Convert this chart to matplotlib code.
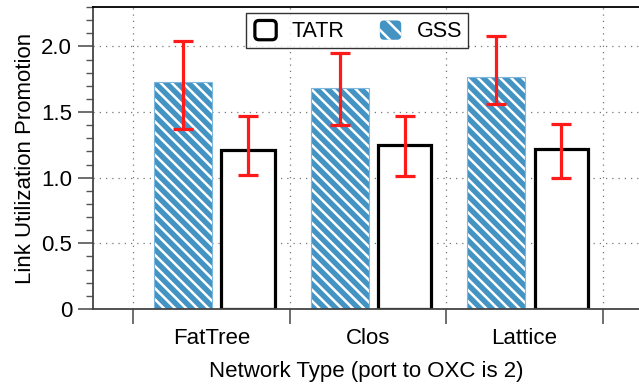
import numpy as np
import matplotlib
matplotlib.use("Agg")
import matplotlib.pyplot as plt
from matplotlib.patches import FancyBboxPatch
from matplotlib.legend_handler import HandlerPatch

plt.rcParams['font.family'] = ['Liberation Sans', 'DejaVu Sans']
plt.rcParams['hatch.color'] = 'white'
plt.rcParams['hatch.linewidth'] = 1.8

categories = ["FatTree", "Clos", "Lattice"]
gss = [1.73, 1.68, 1.77]
gss_err_low = [1.37, 1.40, 1.56]
gss_err_high = [2.04, 1.95, 2.08]
tatr = [1.21, 1.25, 1.22]
tatr_err_low = [1.02, 1.01, 1.00]
tatr_err_high = [1.47, 1.47, 1.41]

blue = "#4393c3"
red = "#ff1a1a"

fig = plt.figure(figsize=(6.39, 3.85), dpi=100)
ax = fig.add_axes([0.1455, 0.1974, 0.8545, 0.7844])

x = np.arange(1, len(categories) + 1)
gx = x - 0.18
tx = x + 0.235

# hatch takes the edge colour, so fill with white edge then outline separately
ax.bar(gx, gss, width=0.37, color=blue, edgecolor="white", linewidth=0,
       hatch="\\\\\\", zorder=2)
ax.bar(gx, gss, width=0.37, color="none", edgecolor="#7fb8de", linewidth=0.8, zorder=2)
ax.bar(tx, tatr, width=0.34, color="white", edgecolor="black", linewidth=2.3, zorder=2)

gss = np.array(gss)
tatr = np.array(tatr)
ax.errorbar(gx, gss, yerr=[gss - np.array(gss_err_low), np.array(gss_err_high) - gss],
            fmt="none", ecolor=red, elinewidth=2.3, capsize=7, capthick=2.3, zorder=3)
ax.errorbar(tx, tatr, yerr=[tatr - np.array(tatr_err_low), np.array(tatr_err_high) - tatr],
            fmt="none", ecolor=red, elinewidth=2.3, capsize=7, capthick=2.3, zorder=3)

ax.set_ylim(0, 2.297)
ax.set_xlim(0.245, 3.73)

# y ticks
ax.set_yticks([0, 0.5, 1.0, 1.5, 2.0])
ax.set_yticklabels(["0", "0.5", "1.0", "1.5", "2.0"])
ax.set_yticks(np.arange(0, 2.31, 0.1), minor=True)
ax.tick_params(axis="y", which="major", length=11, width=1.2, color="#555555",
               labelsize=16, pad=4)
ax.tick_params(axis="y", which="minor", length=5, width=1.0, color="#555555")

# x ticks at group boundaries, labels at centers
ax.set_xticks([0.5, 1.5, 2.5, 3.5])
ax.set_xticklabels([])
ax.set_xticks(x, minor=True)
ax.set_xticklabels(categories, minor=True)
ax.tick_params(axis="x", which="major", length=11, width=1.2, color="#555555")
ax.tick_params(axis="x", which="minor", length=0, labelsize=16, pad=14)

ax.grid(True, which="major", linestyle=(0, (1, 4)), color="#777777", linewidth=0.9, zorder=0)
ax.set_axisbelow(True)

for s in ["left", "bottom", "top"]:
    ax.spines[s].set_linewidth(1.3)
ax.spines["left"].set_color("#444444")
ax.spines["bottom"].set_color("#444444")
ax.spines["right"].set_visible(False)

ax.set_ylabel("Link Utilization Promotion", fontsize=16, labelpad=4)
ax.set_xlabel("Network Type (port to OXC is 2)", fontsize=16, labelpad=8)


class RoundHandler(HandlerPatch):
    def create_artists(self, legend, orig_handle, xdescent, ydescent, width, height, fontsize, trans):
        p = FancyBboxPatch((-xdescent + 2, -ydescent + 1), width - 4, height - 2,
                           boxstyle="round,pad=0,rounding_size=3",
                           facecolor=orig_handle.get_facecolor(),
                           edgecolor=orig_handle.get_edgecolor(),
                           linewidth=orig_handle.get_linewidth(),
                           hatch=orig_handle.get_hatch(), transform=trans)
        return [p]


h1 = plt.Rectangle((0, 0), 1, 1, facecolor="white", edgecolor="black", linewidth=2.3)
h2 = plt.Rectangle((0, 0), 1, 1, facecolor=blue, edgecolor="white", linewidth=0, hatch="\\\\")
leg = ax.legend([h1, h2], ["TATR", "GSS"], ncol=2, loc="upper center",
                bbox_to_anchor=(0.484, 0.98), borderaxespad=0, fontsize=15.5,
                frameon=True, fancybox=False,
                handlelength=1.25, handleheight=1.2, columnspacing=1.5, handletextpad=0.6,
                borderpad=0.28, handler_map={plt.Rectangle: RoundHandler()})
leg.get_frame().set_edgecolor("black")
leg.get_frame().set_linewidth(1.0)
leg.set_zorder(10)

fig.savefig("out.png", dpi=100)
